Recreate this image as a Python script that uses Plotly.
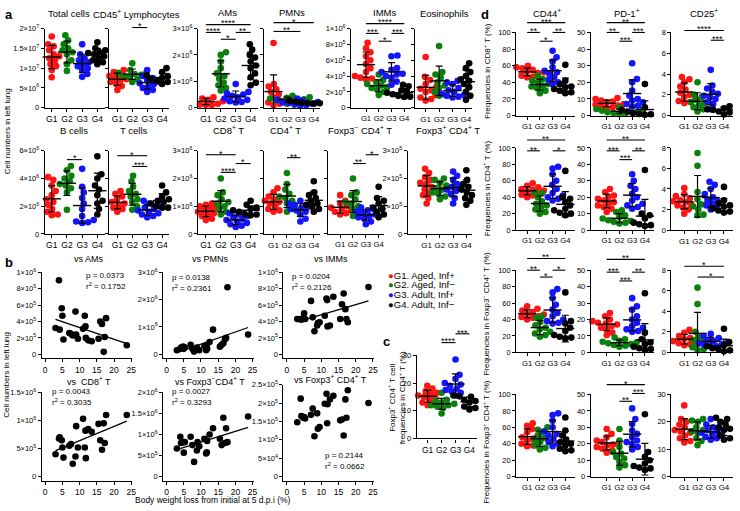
import numpy as np
import plotly.graph_objects as go

W, H = 740, 511
FONT = "Liberation Sans, Arial, sans-serif"
COLORS = ["#ff1414", "#0b800b", "#1414ff", "#000000"]
GROUP_TICKS = ["G1", "G2", "G3", "G4"]
LEGEND_LABELS = ["G1. Aged, Inf+", "G2. Aged, Inf\u2212", "G3. Adult, Inf+", "G4. Adult, Inf\u2212"]

# ---------------- panel a : cell numbers in left lung (values in display units) ----------------
total_cells = [  # x1e7
    [1.8, 1.6, 1.55, 1.45, 1.35, 1.3, 1.25, 1.2, 1.1, 1.05, 0.95, 0.77],
    [1.83, 1.7, 1.6, 1.5, 1.45, 1.4, 1.35, 1.2, 1.1, 0.93],
    [1.6, 1.35, 1.25, 1.2, 1.15, 1.1, 1.05, 1.0, 0.95, 0.85, 0.78],
    [1.65, 1.5, 1.45, 1.4, 1.38, 1.35, 1.3, 1.25, 1.2, 1.15, 1.1]]
cd45_lymph = [  # x1e7
    [0.95, 0.9, 0.85, 0.8, 0.75, 0.72, 0.7, 0.65, 0.6, 0.55, 0.45],
    [1.12, 0.95, 0.9, 0.88, 0.85, 0.83, 0.8, 0.78, 0.72, 0.65],
    [0.95, 0.8, 0.75, 0.7, 0.65, 0.62, 0.6, 0.55, 0.5, 0.45, 0.4],
    [1.0, 0.9, 0.82, 0.8, 0.76, 0.75, 0.73, 0.7, 0.68, 0.65, 0.6]]
ams = [  # x1e6
    [0.45, 0.4, 0.35, 0.3, 0.28, 0.25, 0.2, 0.18, 0.15, 0.12, 0.1, 0.1],
    [2.1, 2.0, 1.75, 1.5, 1.3, 1.2, 1.1, 0.95, 0.85, 0.75, 0.65],
    [0.9, 0.6, 0.55, 0.5, 0.45, 0.4, 0.35, 0.3, 0.25, 0.22, 0.2],
    [2.4, 2.2, 2.0, 1.9, 1.75, 1.6, 1.5, 1.3, 1.15, 0.95, 0.85]]
pmns = [  # x1e6
    [2.45, 0.9, 0.8, 0.7, 0.6, 0.5, 0.4, 0.3, 0.25, 0.2, 0.15, 0.1],
    [0.45, 0.4, 0.38, 0.35, 0.32, 0.3, 0.28, 0.25, 0.2, 0.15],
    [0.35, 0.3, 0.28, 0.25, 0.22, 0.2, 0.18, 0.15, 0.12, 0.1, 0.08],
    [0.28, 0.26, 0.25, 0.23, 0.22, 0.2, 0.2, 0.18, 0.17, 0.15]]
imms = [  # x1e5
    [8.2, 7.5, 7.0, 6.5, 6.0, 5.5, 5.0, 4.5, 4.0, 3.8, 3.7, 3.6],
    [4.2, 3.5, 3.2, 3.0, 2.8, 2.6, 2.5, 2.3, 2.0, 1.6],
    [6.6, 6.5, 5.0, 4.8, 4.5, 4.3, 4.2, 4.0, 3.8, 3.3, 2.9],
    [2.9, 2.7, 2.2, 2.0, 1.9, 1.8, 1.7, 1.6, 1.5, 1.4, 1.35]]
eosinophils = [  # x1e5
    [6.4, 3.9, 3.5, 3.0, 2.6, 2.4, 2.2, 2.0, 1.6, 1.3, 1.1, 0.9],
    [7.8, 4.5, 4.2, 3.8, 3.2, 2.8, 2.5, 2.0, 1.6, 1.5],
    [3.4, 3.2, 3.0, 2.5, 2.2, 2.0, 1.8, 1.6, 1.5, 1.4, 1.3],
    [5.6, 5.0, 4.5, 4.0, 3.6, 3.4, 3.0, 2.6, 2.0, 1.5, 1.0]]
b_cells = [  # x1e6
    [4.1, 3.9, 3.5, 3.1, 2.8, 2.5, 2.3, 2.1, 1.8, 1.6, 1.4, 1.35],
    [4.9, 4.6, 4.2, 4.0, 3.8, 3.6, 3.5, 3.3, 3.0, 1.75],
    [4.7, 3.4, 3.0, 2.6, 2.2, 1.8, 1.3, 1.0, 0.9, 0.85, 0.8],
    [5.6, 4.3, 4.0, 3.5, 3.2, 2.8, 2.4, 2.2, 1.8, 1.4]]
t_cells = [  # x1e6
    [3.1, 2.9, 2.7, 2.5, 2.3, 2.2, 2.1, 2.0, 1.9, 1.8, 1.6],
    [4.2, 3.8, 3.4, 3.1, 2.9, 2.7, 2.5, 2.3, 2.0, 1.75],
    [2.4, 2.2, 2.0, 1.9, 1.8, 1.7, 1.6, 1.5, 1.4, 1.3, 1.2],
    [3.5, 3.0, 2.7, 2.5, 2.4, 2.3, 2.2, 2.1, 2.0, 1.9, 1.9]]
cd8_t = [  # x1e6
    [1.1, 1.05, 1.0, 0.95, 0.9, 0.85, 0.8, 0.75, 0.7, 0.65, 0.55, 0.5],
    [2.0, 1.5, 1.4, 1.25, 1.15, 1.1, 1.0, 0.9, 0.8, 0.7],
    [0.75, 0.7, 0.65, 0.6, 0.55, 0.5, 0.45, 0.4, 0.35, 0.3, 0.25],
    [1.2, 1.05, 0.95, 0.9, 0.85, 0.82, 0.8, 0.75, 0.72, 0.7, 0.68]]
cd4_t = [  # x1e6
    [1.65, 1.5, 1.35, 1.25, 1.2, 1.15, 1.1, 1.0, 0.9, 0.85, 0.8],
    [2.2, 1.8, 1.6, 1.45, 1.35, 1.3, 1.2, 1.1, 0.9, 0.8],
    [1.2, 1.1, 1.05, 1.0, 0.95, 0.9, 0.85, 0.8, 0.7, 0.55, 0.45],
    [1.9, 1.5, 1.4, 1.3, 1.2, 1.1, 1.05, 1.0, 0.9, 0.8]]
foxp3neg_cd4 = [  # x1e6
    [1.4, 1.2, 1.1, 1.0, 0.95, 0.9, 0.85, 0.8, 0.75, 0.7],
    [2.0, 1.5, 1.4, 1.25, 1.15, 1.1, 1.0, 0.9, 0.75, 0.65],
    [0.95, 0.9, 0.85, 0.8, 0.75, 0.7, 0.65, 0.6, 0.55, 0.45, 0.35],
    [1.7, 1.3, 1.2, 1.1, 1.0, 0.95, 0.9, 0.8, 0.7, 0.6]]
foxp3pos_cd4 = [  # x1e5
    [2.35, 2.2, 2.05, 1.95, 1.85, 1.8, 1.7, 1.6, 1.5, 1.4, 1.3, 1.1],
    [2.0, 1.95, 1.85, 1.75, 1.65, 1.6, 1.5, 1.45, 1.35, 1.25],
    [2.25, 2.1, 1.95, 1.8, 1.7, 1.65, 1.6, 1.55, 1.45, 1.3, 1.1],
    [2.3, 1.95, 1.8, 1.7, 1.6, 1.5, 1.4, 1.3, 1.2, 1.05]]

# ---------------- panel b : correlation with body weight loss ----------------
weight_loss = [3.0, 4.0, 4.2, 4.8, 5.0, 5.3, 7.0, 7.5, 8.0, 8.8, 9.0, 9.5, 11.0, 11.5,
               11.7, 11.8, 12.5, 13.5, 15.5, 16.0, 16.5, 17.0, 17.3, 17.7, 23.7]
vs_ams = [3.2, 9.0, 3.0, 5.6, 4.7, 1.8, 2.6, 2.5, 2.3, 5.2, 2.4, 1.9, 3.1, 4.7, 3.4, 2.0,
          1.7, 1.6, 1.9, 4.0, 3.7, 0.3, 2.1, 4.4, 1.1]  # x1e5
vs_pmns = [0.15, 0.2, 0.25, 0.28, 0.2, 0.25, 0.35, 0.2, 0.1, 0.25, 0.2, 0.15, 0.3, 0.15,
           0.3, 0.2, 0.45, 0.9, 0.28, 0.35, 0.4, 0.55, 0.6, 2.45, 0.72]  # x1e6
vs_imms = [4.3, 4.3, 4.2, 4.4, 5.0, 4.3, 6.5, 4.5, 2.8, 3.5, 3.8, 3.9, 4.7, 6.8, 6.6, 3.4,
           3.5, 7.0, 4.3, 6.1, 7.4, 5.5, 4.3, 3.9, 8.2]  # x1e5
vs_cd8 = [0.4, 0.68, 0.7, 0.65, 0.52, 0.34, 0.55, 0.58, 0.23, 0.36, 0.9, 0.52, 1.03, 0.52,
          0.82, 0.33, 0.85, 0.8, 0.94, 0.65, 0.48, 0.95, 0.6, 1.1, 1.1]  # x1e6
vs_foxp3neg = [0.67, 0.95, 0.8, 0.82, 0.57, 0.82, 0.95, 0.75, 0.35, 0.62, 0.82, 0.72, 0.9,
               0.55, 0.58, 0.85, 1.0, 1.15, 0.9, 0.75, 1.4, 0.8, 1.15, 0.82, 1.43]  # x1e6
vs_foxp3pos = [1.48, 2.12, 1.65, 1.6, 1.62, 1.58, 1.68, 1.85, 1.1, 1.72, 1.3, 1.35, 1.98,
               2.25, 1.45, 1.97, 2.1, 2.2, 1.53, 1.55, 1.12, 2.1, 1.6, 2.35, 2.0]  # x1e5
stats_b = [("0.0373", "0.1752"), ("0.0138", "0.2361"), ("0.0204", "0.2126"),
           ("0.0043", "0.3035"), ("0.0027", "0.3293"), ("0.2144", "0.0662")]

# ---------------- panel c ----------------
treg_freq_cd4 = [
    [19, 18, 17, 16.5, 16, 15.5, 15, 14.5, 14, 13, 12.5, 12],
    [16.5, 14, 13.5, 13, 12.5, 12, 12, 11.5, 11, 9],
    [28.5, 23, 21.5, 20, 19.5, 19, 18, 17.5, 17, 16.5, 15.5],
    [15.5, 15.2, 15, 14.5, 14, 13.5, 13, 12, 11.5, 11, 10.5]]

# ---------------- panel d : activation markers (%) ----------------
cd8_cd44 = [[60, 58, 57, 55, 54, 53, 52, 51, 50, 48, 47, 46],
            [48, 44, 42, 40, 38, 36, 35, 33, 30, 27],
            [78, 70, 65, 58, 54, 52, 50, 46, 43, 40, 38],
            [61, 42, 38, 35, 34, 33, 32, 31, 30, 28, 27]]
cd8_pd1 = [[10.5, 10, 9, 8.5, 8, 7.5, 7, 6.5, 6, 5.5, 5, 4.5],
           [5, 4, 3.5, 3, 2.5, 2, 2, 1.5, 1.2, 1],
           [31.5, 22, 20, 15, 12, 10, 9, 8, 7, 6, 5.5],
           [19, 5, 3.5, 3, 2.5, 2, 1.5, 1.2, 1, 0.8, 0.5]]
cd8_cd25 = [[3.7, 3.5, 3.2, 2.8, 2.5, 2.2, 2.0, 1.8, 1.6, 1.4, 1.3, 1.2],
            [3.2, 2.0, 1.8, 1.5, 1.3, 1.2, 1.0, 0.8, 0.6, 0.4],
            [4.4, 2.9, 2.6, 2.3, 2.1, 1.9, 1.8, 1.6, 1.3, 1.1, 0.6],
            [0.9, 0.8, 0.75, 0.7, 0.6, 0.55, 0.5, 0.4, 0.3, 0.1]]
cd4_cd44 = [[57, 54, 52, 50, 49, 48, 47, 46, 45, 43, 42, 40],
            [46, 45, 40, 35, 32, 30, 28, 25, 22, 20],
            [77, 75, 68, 60, 55, 50, 45, 42, 40, 38, 36],
            [72, 40, 38, 34, 30, 26, 24, 22, 21, 20, 18]]
cd4_pd1 = [[25, 23, 21, 20, 19, 18, 17, 16, 15, 14, 13, 11],
           [12, 11, 9, 8, 7, 6, 5.5, 5, 4.5, 4],
           [34, 30, 27, 25, 22, 20, 18, 16, 15, 14, 13],
           [36.5, 10, 9, 7, 5, 4.5, 4, 3.5, 3, 2.5]]
cd4_cd25 = [[4.1, 3.5, 3.3, 3.1, 2.9, 2.8, 2.7, 2.5, 2.4, 2.2, 2.0, 1.6],
            [7.5, 6.25, 3.7, 3.0, 2.6, 2.5, 2.3, 2.0, 1.5, 1.45],
            [4.7, 4.4, 4.0, 3.5, 3.2, 3.0, 2.8, 2.6, 2.4, 2.2, 2.0],
            [4.2, 2.9, 2.6, 2.4, 2.3, 2.2, 2.1, 2.0, 1.9, 1.8, 1.7]]
fneg_cd44 = [[56, 53, 51, 49, 48, 47, 46, 45, 44, 43, 42, 40],
             [44, 42, 37, 33, 30, 28, 25, 23, 21, 19],
             [77, 73, 66, 58, 52, 48, 44, 40, 38, 36, 35],
             [73, 38, 35, 30, 26, 22, 21, 20, 19, 18, 17]]
fneg_pd1 = [[24, 22, 20, 19, 18, 17.5, 17, 16, 15, 14, 12, 10.5],
            [9, 8, 7, 6.5, 6, 5.5, 5, 4.5, 4, 3.5],
            [33, 28, 26, 22, 20, 18, 16, 15, 14, 13, 12.5],
            [36, 12, 8, 6, 5, 4, 3.5, 3, 2.5, 2, 1.5]]
fneg_cd25 = [[2.2, 1.9, 1.6, 1.4, 1.3, 1.2, 1.1, 1.0, 0.9, 0.8, 0.7],
             [6.3, 4.7, 2.0, 1.5, 1.2, 1.0, 0.8, 0.5, 0.3, 0.2],
             [1.8, 1.6, 1.4, 1.2, 1.1, 1.0, 0.9, 0.8, 0.7, 0.6, 0.6],
             [2.3, 1.0, 0.7, 0.6, 0.5, 0.4, 0.35, 0.3, 0.2, 0.1]]
fpos_cd44 = [[65, 62, 58, 54, 50, 48, 46, 44, 42, 40, 38, 37],
             [60, 57, 55, 50, 47, 45, 42, 38, 35, 33],
             [77, 75, 68, 60, 55, 52, 50, 46, 42, 40, 37],
             [72, 56, 50, 45, 42, 40, 38, 36, 34, 32, 31]]
fpos_pd1 = [[29, 26, 24, 22, 21, 20, 19.5, 19, 18, 17, 16, 14.5],
            [29, 22, 18, 15, 14, 12, 11, 9, 7, 5.5],
            [41.5, 35, 32, 28, 26, 24, 22, 21, 20, 18, 16.5],
            [38, 15, 12, 10, 8, 7, 6.5, 6, 5.5, 5, 4]]
fpos_cd25 = [[26, 21, 20, 19, 18, 17, 16.5, 16, 15, 14, 13, 12.5],
             [21, 20.5, 20, 18, 17, 16.5, 16, 14, 13, 11.5],
             [21, 19, 18, 17, 16.5, 16, 15.5, 15, 14.5, 14, 13.5],
             [21.5, 21, 20, 19, 18.5, 18, 17.5, 17, 15, 14, 13.5]]

# =====================================================================
fig = go.Figure()
layout_axes = {}
shapes = []
annots = []
counter = [0]


def fx(px):
    return px / W


def fy(py):
    return 1 - py / H


def sci(v):
    if abs(v) < 1e-12:
        return "0"
    e = int(np.floor(np.log10(v) + 1e-9))
    m = round(v / 10 ** e, 2)
    return "%g\u00d710<sup>%d</sup>" % (m, e)


def new_axes(x0, x1, top, bot, xr, yr):
    counter[0] += 1
    i = counter[0]
    s = "" if i == 1 else str(i)
    common = dict(showline=True, linecolor="black", linewidth=1.1, ticks="outside",
                  ticklen=3, tickwidth=1.1, tickcolor="black", showgrid=False,
                  zeroline=False, fixedrange=True, tickangle=0,
                  tickfont=dict(size=8, color="black"))
    layout_axes["xaxis" + s] = dict(common, domain=[fx(x0), fx(x1)], range=xr, anchor="y" + s)
    layout_axes["yaxis" + s] = dict(common, domain=[fy(bot), fy(top)], range=yr, anchor="x" + s)
    return "x" + s, "y" + s, layout_axes["xaxis" + s], layout_axes["yaxis" + s]


def text(t, x, y, size=9, xanchor="center", yanchor="middle", angle=0, bold=False):
    if not t:
        return
    if bold:
        t = "<b>" + t + "</b>"
    annots.append(dict(text=t, x=fx(x), y=fy(y), xref="paper", yref="paper",
                       xanchor=xanchor, yanchor=yanchor, showarrow=False, textangle=angle,
                       font=dict(size=size, color="black", family=FONT)))


def swarm(ypx, d):
    order = np.argsort(ypx)
    placed = []
    offs = np.zeros(len(ypx))
    for i in order:
        y = ypx[i]
        k = 0
        found = None
        while found is None:
            cands = [0.0] if k == 0 else [k * 0.4, -k * 0.4]
            for o in cands:
                if all((o - po) ** 2 + (y - py) ** 2 >= d * d for po, py in placed):
                    found = o
                    break
            k += 1
        offs[i] = found
        placed.append((found, y))
    return offs


def dot_panel(groups, unit, box, ymax, ystep, title, title_x, title_y, sig=(),
              labels=True, sci_labels=True):
    ax, g1, sp, end, top, bot = box
    xr = [1 - (g1 - ax) / sp, 4 + (end - g1 - 3 * sp) / sp]
    xa, ya, XA, YA = new_axes(ax, end, top, bot, xr, [0, ymax * unit])
    XA.update(tickvals=[1, 2, 3, 4], ticktext=GROUP_TICKS,
              tickfont=dict(size=min(8.5, sp * 0.6), color="black"))
    tv = list(np.arange(0, ymax + 1e-9, ystep))
    YA.update(tickvals=[t * unit for t in tv],
              ticktext=[sci(t * unit) if sci_labels else "%g" % t for t in tv],
              showticklabels=labels, tickfont=dict(size=7.5, color="black"))
    ypx = (bot - top) / ymax
    for g, vals in enumerate(groups):
        v = np.array(vals, float)
        offs = swarm(v * ypx, 5.8)
        fig.add_trace(go.Scatter(x=1 + g + offs / sp, y=v * unit, mode="markers",
                                 marker=dict(color=COLORS[g], size=6.6), cliponaxis=False,
                                 xaxis=xa, yaxis=ya, hoverinfo="skip", showlegend=False))
    for g, vals in enumerate(groups):
        v = np.array(vals, float) * unit
        fig.add_trace(go.Scatter(x=[1 + g], y=[v.mean()], mode="markers",
                                 marker=dict(symbol="line-ew", size=13, color="black",
                                             line=dict(width=1.4, color="black")),
                                 error_y=dict(type="data", array=[v.std(ddof=1)], visible=True,
                                              color="black", thickness=1.2, width=3.5),
                                 cliponaxis=False, xaxis=xa, yaxis=ya, hoverinfo="skip",
                                 showlegend=False))

    def gx(g):
        return g1 + (g - 1) * sp

    for a, b, stars, py in sig:
        shapes.append(dict(type="line", xref="paper", yref="paper", x0=fx(gx(a)), x1=fx(gx(b)),
                           y0=fy(py), y1=fy(py), line=dict(color="black", width=1.1)))
        text(stars, (gx(a) + gx(b)) / 2, py + 6, size=9, yanchor="bottom")
    text(title, title_x, title_y, size=9.5)


def scatter_panel(yvals, unit, box, ymax, ystep, title, title_y, stats, stats_xy, fit=True):
    x0, x1, top, zero = box
    bot = zero + 4
    ypx = (zero - top) / ymax
    ylo = -(bot - zero) / ypx
    xa, ya, XA, YA = new_axes(x0, x1, top, bot, [-1, 25.3], [ylo * unit, ymax * unit])
    XA.update(tickvals=[0, 5, 10, 15, 20, 25], tickfont=dict(size=8.5, color="black"))
    tv = list(np.arange(0, ymax + 1e-9, ystep))
    YA.update(tickvals=[t * unit for t in tv], ticktext=[sci(t * unit) for t in tv],
              tickfont=dict(size=7.5, color="black"))
    x = np.array(weight_loss, float)
    y = np.array(yvals, float) * unit
    fig.add_trace(go.Scatter(x=x, y=y, mode="markers", marker=dict(color="black", size=6.6),
                             cliponaxis=False, xaxis=xa, yaxis=ya, hoverinfo="skip",
                             showlegend=False))
    if fit:
        k, b0 = np.polyfit(x, y, 1)
        xs = np.array([x.min(), x.max()])
        fig.add_trace(go.Scatter(x=xs, y=k * xs + b0, mode="lines",
                                 line=dict(color="black", width=1.3), xaxis=xa, yaxis=ya,
                                 hoverinfo="skip", showlegend=False))
    sx, sy = stats_xy
    text("p = " + stats[0], sx, sy, size=8, xanchor="left")
    text("r<sup>2</sup> = " + stats[1], sx, sy + 11, size=8, xanchor="left")
    text(title, (x0 + x1) / 2 + 2, title_y, size=9)


SUP_P = "<sup>+</sup>"
SUP_M = "<sup>\u2212</sup>"

# ---- panel a, row 1 ----
R1 = (23, 104)
R2 = (148, 233)
dot_panel(total_cells, 1e7, (45, 52, 15.3, 106) + R1, 2, 0.5, "Total cells", 69, 8)
dot_panel(cd45_lymph, 1e7, (110, 118, 15, 170) + R1, 2, 0.5, "CD45" + SUP_P + " Lymphocytes", 137, 8,
          sig=[(2, 3, "*", 22)], labels=False)
dot_panel(ams, 1e6, (199, 207, 15, 259) + R1, 3, 1, "AMs", 229, 7,
          sig=[(1, 4, "****", 19), (1, 2, "****", 27), (3, 4, "**", 27), (2, 3, "*", 34)])
dot_panel(pmns, 1e6, (265, 275, 13.5, 322) + R1, 3, 1, "PMNs", 294, 7,
          sig=[(1, 4, "*", 17), (1, 3, "**", 26)], labels=False)
dot_panel(imms, 1e5, (353, 368, 12.8, 413) + R1, 10, 2, "IMMs", 387, 7,
          sig=[(1, 4, "****", 18), (1, 2, "***", 28), (3, 4, "***", 28), (2, 3, "*", 36)])
dot_panel(eosinophils, 1e5, (417, 428, 13.5, 475) + R1, 10, 2, "Eosinophils", 447, 8, labels=False)
# ---- panel a, row 2 ----
T2 = 127
dot_panel(b_cells, 1e6, (45, 52, 15.3, 106) + R2, 6, 2, "B cells", 74, T2, sig=[(2, 3, "*", 157)])
dot_panel(t_cells, 1e6, (110, 118, 15, 170) + R2, 6, 2, "T cells", 135, T2,
          sig=[(1, 3, "*", 153), (2, 3, "***", 164)], labels=False)
dot_panel(cd8_t, 1e6, (199, 207, 15, 259) + R2, 3, 1, "CD8" + SUP_P + " T", 230, T2,
          sig=[(1, 3, "*", 152), (3, 4, "*", 161), (2, 3, "****", 170)])
dot_panel(cd4_t, 1e6, (265, 275, 13.5, 322) + R2, 3, 1, "CD4" + SUP_P + " T", 287, T2,
          sig=[(2, 3, "**", 155)], labels=False)
dot_panel(foxp3neg_cd4, 1e6, (330, 342, 12.9, 386) + R2, 3, 1,
          "Foxp3" + SUP_M + " CD4" + SUP_P + " T", 362, T2,
          sig=[(3, 4, "*", 152), (2, 3, "**", 161)], labels=False)
dot_panel(foxp3pos_cd4, 1e5, (410, 429, 13.3, 475) + R2, 3, 1,
          "Foxp3" + SUP_P + " CD4" + SUP_P + " T", 450, T2)

# ---- panel b ----
BR1 = 272
BR1Z = 356
BR2 = 395
BR2Z = 481
scatter_panel(vs_ams, 1e5, (42, 133, BR1, BR1Z), 10, 2, "vs AMs", 259, stats_b[0], (84, 275))
scatter_panel(vs_pmns, 1e6, (164, 255, BR1, BR1Z), 3, 1, "vs PMNs", 259, stats_b[1], (171, 277))
scatter_panel(vs_imms, 1e5, (285, 376, BR1, BR1Z), 10, 2, "vs IMMs", 259, stats_b[2], (292, 276))
scatter_panel(vs_cd8, 1e6, (42, 133, BR2, BR2Z), 1.5, 0.5, "vs  CD8" + SUP_P + " T", 383,
              stats_b[3], (50, 394))
scatter_panel(vs_foxp3neg, 1e6, (164, 255, BR2, BR2Z), 2, 0.5,
              "vs Foxp3" + SUP_M + "CD4" + SUP_P + " T", 383, stats_b[4], (171, 394))
scatter_panel(vs_foxp3pos, 1e5, (285, 376, 387, BR2Z), 2.5, 0.5,
              "vs Foxp3" + SUP_P + " CD4" + SUP_P + " T", 381.5, stats_b[5], (325, 459), fit=False)
text("Body weight loss from initial at 5 d.p.i (%)", 214, 505, size=8.5)
text("Cell numbers in left lung", 7, 377, size=8, angle=-90)

# ---- legend ----
for i, lab in enumerate(LEGEND_LABELS):
    text("<span style='color:%s'>\u25cf</span>%s" % (COLORS[i], lab), 388, 275 + 10 * i,
         size=9.5, xanchor="left")

# ---- panel c ----
dot_panel(treg_freq_cd4, 1, (419, 430, 14, 480, 357, 442), 30, 10, "", 450, 340,
          sig=[(3, 4, "***", 335), (2, 3, "****", 344)], sci_labels=False)
text("Foxp3" + SUP_P + " CD4" + SUP_P + " T cell<br>frequencies in CD4" + SUP_P + " T (%)",
     399, 400, size=8, angle=-90)

# ---- panel d ----
C1 = (519, 530, 12.8, 578)
C2 = (594, 610, 12.8, 658)
C3 = (675, 688, 13.3, 737)
DR = [(27, 112), (145, 229), (270, 354), (397, 481)]
dot_panel(cd8_cd44, 1, C1 + DR[0], 100, 20, "CD44" + SUP_P, 550, 7, sci_labels=False,
          sig=[(1, 4, "***", 17), (1, 2, "**", 27), (3, 4, "**", 27), (2, 3, "*", 36)])
dot_panel(cd8_pd1, 1, C2 + DR[0], 50, 10, "PD-1" + SUP_P, 630, 7, sci_labels=False,
          sig=[(1, 4, "**", 17), (1, 2, "**", 27), (3, 4, "***", 27), (2, 3, "***", 36)])
dot_panel(cd8_cd25, 1, C3 + DR[0], 8, 2, "CD25" + SUP_P, 708, 7, sci_labels=False,
          sig=[(1, 4, "****", 25), (3, 4, "***", 35)])
dot_panel(cd4_cd44, 1, C1 + DR[1], 100, 20, "", 550, 0, sci_labels=False,
          sig=[(1, 4, "**", 137), (1, 2, "**", 148), (3, 4, "*", 148)])
dot_panel(cd4_pd1, 1, C2 + DR[1], 50, 10, "", 630, 0, sci_labels=False,
          sig=[(1, 4, "**", 137), (1, 2, "***", 148), (3, 4, "**", 148), (2, 3, "***", 157)])
dot_panel(cd4_cd25, 1, C3 + DR[1], 8, 2, "", 708, 0, sci_labels=False)
dot_panel(fneg_cd44, 1, C1 + DR[2], 100, 20, "", 550, 0, sci_labels=False,
          sig=[(1, 4, "**", 258), (1, 2, "**", 270), (3, 4, "*", 270), (2, 3, "*", 277)])
dot_panel(fneg_pd1, 1, C2 + DR[2], 50, 10, "", 630, 0, sci_labels=False,
          sig=[(1, 4, "**", 259), (1, 2, "***", 272), (3, 4, "**", 272), (2, 3, "***", 281)])
dot_panel(fneg_cd25, 1, C3 + DR[2], 8, 2, "", 708, 0, sci_labels=False,
          sig=[(1, 4, "*", 266), (2, 4, "*", 277)])
dot_panel(fpos_cd44, 1, C1 + DR[3], 100, 20, "", 550, 0, sci_labels=False)
dot_panel(fpos_pd1, 1, C2 + DR[3], 50, 10, "", 630, 0, sci_labels=False,
          sig=[(1, 4, "*", 387), (3, 4, "***", 396), (2, 3, "**", 404)])
dot_panel(fpos_cd25, 1, C3 + DR[3], 30, 10, "", 708, 0, sci_labels=False)

d_titles = ["Frequencies in CD8" + SUP_P + " T (%)",
            "Frequencies in CD4" + SUP_P + " T (%)",
            "Frequencies in Foxp3" + SUP_M + " CD4" + SUP_P + " T (%)",
            "Frequencies in Foxp3" + SUP_P + " CD4" + SUP_P + " T (%)"]
for yc, t in zip([66, 186, 314, 445], d_titles):
    text(t, 489, yc, size=8, angle=-90)

text("Cell numbers in left lung", 7, 128, size=8, angle=-90)

# ---- panel letters ----
text("a", 3, 9, size=13, xanchor="left", bold=True)
text("b", 3, 262, size=13, xanchor="left", bold=True)
text("c", 383, 343, size=13, xanchor="left", bold=True)
text("d", 482, 9, size=13, xanchor="left", bold=True)

fig.update_layout(width=W, height=H, margin=dict(l=0, r=0, t=0, b=0),
                  paper_bgcolor="white", plot_bgcolor="white", showlegend=False,
                  font=dict(family=FONT, color="black"), shapes=shapes, annotations=annots,
                  **layout_axes)
fig.write_html("out.html")
